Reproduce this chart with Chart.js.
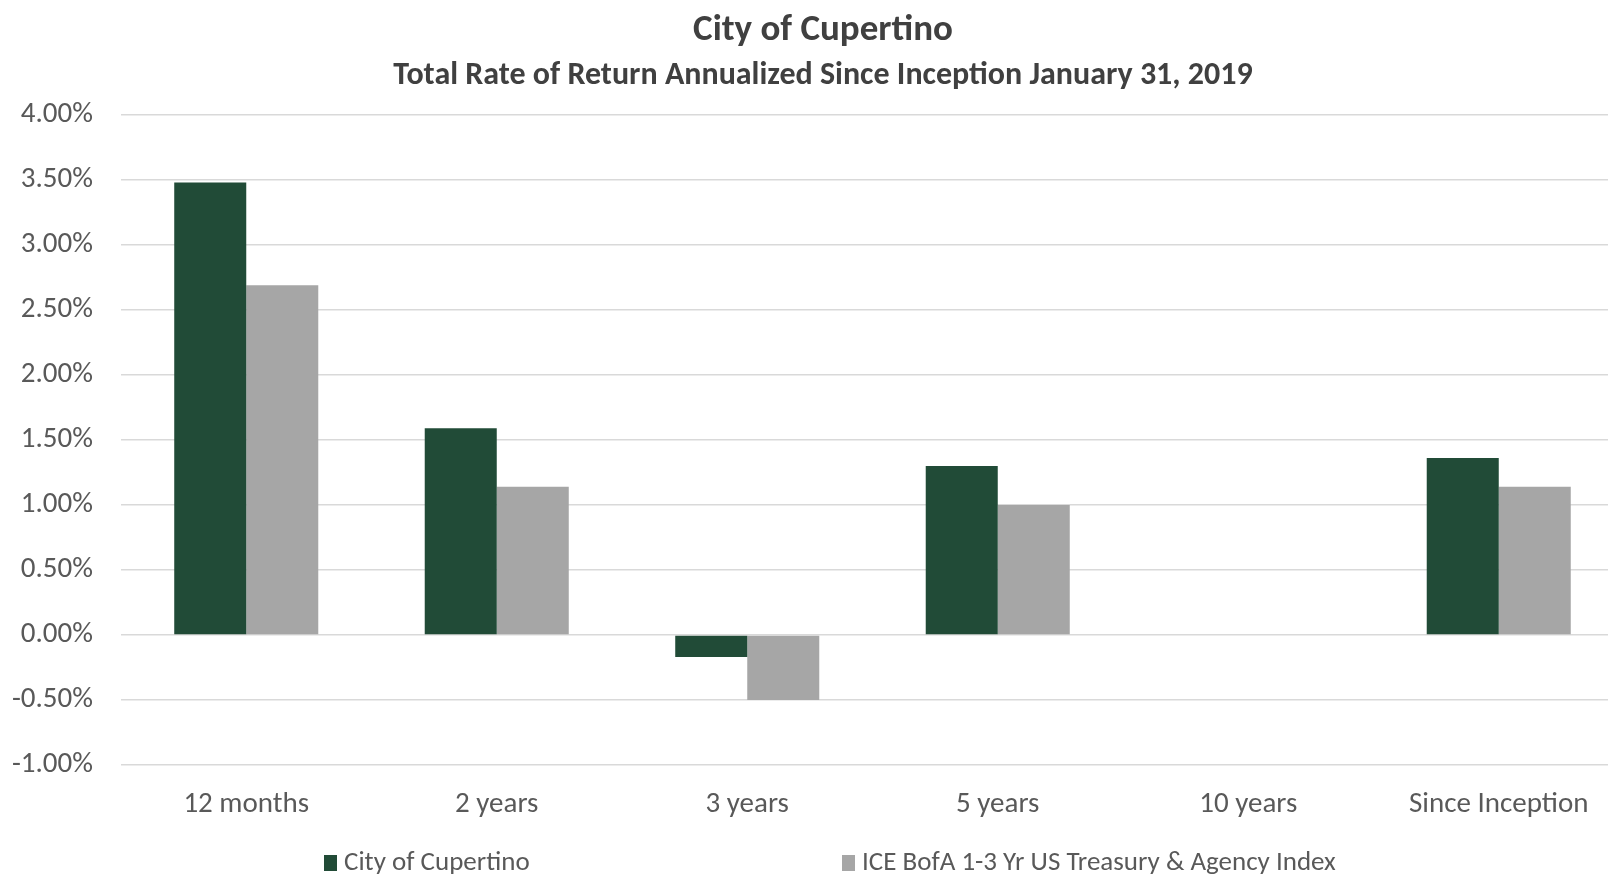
<!DOCTYPE html>
<html>
<head>
<meta charset="utf-8">
<script src="https://cdn.jsdelivr.net/npm/chart.js@4"></script>
<style>
  html, body { margin: 0; padding: 0; background: #fff; overflow: hidden; }
  .wrap { position: relative; width: 1608px; height: 875px; overflow: hidden; }
  .legend { position: absolute; top: 845px; left: 0; width: 1608px; height: 32px;
            font-family: Carlito, Calibri, Lato, sans-serif; font-size: 27px; color: #595959; }
  .legend span { position: absolute; top: 0; line-height: 32px; white-space: nowrap; }
  .legend i { display: inline-block; width: 13px; height: 16px; margin-right: 7px; vertical-align: -1px; }
  #chart { position: absolute; left: 0; top: 0; }
</style>
</head>
<body>
<div class="wrap">
  <!-- the original plot is cut off at the right edge, so the canvas is wider than the window -->
  <canvas id="chart" width="1624" height="875"></canvas>
  <div class="legend" id="legend"></div>
</div>
<script>
const categories = ["12 months", "2 years", "3 years", "5 years", "10 years", "Since Inception"];
const seriesNames = ["City of Cupertino", "ICE BofA 1-3 Yr US Treasury & Agency Index"];
const cupertino = [3.48, 1.59, -0.17, 1.30, null, 1.36];
const iceBofA = [2.69, 1.14, -0.50, 1.00, null, 1.14];
const yTicks = [-1, -0.5, 0, 0.5, 1, 1.5, 2, 2.5, 3, 3.5, 4];

const colors = ["#214B37", "#A6A6A6"];
const fontFamily = "Carlito, Calibri, Lato, sans-serif";

// let the y labels run into the left padding without being clipped
const widenYLabels = {
  id: "widenYLabels",
  afterLayout(chart) { chart.scales.y.left = 0; }
};

const ctx = document.getElementById("chart").getContext("2d");
new Chart(ctx, {
  type: "bar",
  data: {
    labels: categories,
    datasets: [
      { label: seriesNames[0], data: cupertino, backgroundColor: colors[0] },
      { label: seriesNames[1], data: iceBofA, backgroundColor: colors[1] }
    ]
  },
  options: {
    responsive: false,
    animation: false,
    // left padding keeps the titles centred where the uncropped original had them
    layout: { padding: { left: 22, right: 0, top: 0, bottom: 0 } },
    datasets: { bar: { categoryPercentage: 0.575, barPercentage: 1.0 } },
    plugins: {
      legend: { display: false },
      tooltip: { enabled: false },
      title: {
        display: true,
        text: "City of Cupertino",
        color: "#404040",
        font: { family: fontFamily, size: 37, weight: "bold" },
        padding: { top: 9, bottom: 1 }
      },
      subtitle: {
        display: true,
        text: "Total Rate of Return Annualized Since Inception January 31, 2019",
        color: "#404040",
        font: { family: fontFamily, size: 32, weight: "bold" },
        padding: { top: 2, bottom: 20 }
      }
    },
    scales: {
      x: {
        grid: { display: false },
        border: { display: false },
        ticks: {
          color: "#595959",
          font: { family: fontFamily, size: 29 },
          padding: 14,
          maxRotation: 0
        },
        afterFit: (scale) => { scale.height = 110; }
      },
      y: {
        min: -1,
        max: 4,
        afterBuildTicks: (scale) => { scale.ticks = yTicks.map(v => ({ value: v })); },
        grid: { color: "#D9D9D9", lineWidth: 1.5, drawTicks: false },
        border: { display: false },
        ticks: {
          color: "#595959",
          font: { family: fontFamily, size: 29 },
          padding: 28,
          callback: (v) => v.toFixed(2) + "%"
        },
        afterFit: (scale) => { scale.width = 99; }
      }
    }
  },
  plugins: [widenYLabels]
});

// legend with the wide spacing of the original
const legendPos = [324, 842];
const legend = document.getElementById("legend");
seriesNames.forEach((name, i) => {
  const s = document.createElement("span");
  s.style.left = legendPos[i] + "px";
  const box = document.createElement("i");
  box.style.background = colors[i];
  s.appendChild(box);
  s.appendChild(document.createTextNode(name));
  legend.appendChild(s);
});
</script>
</body>
</html>
